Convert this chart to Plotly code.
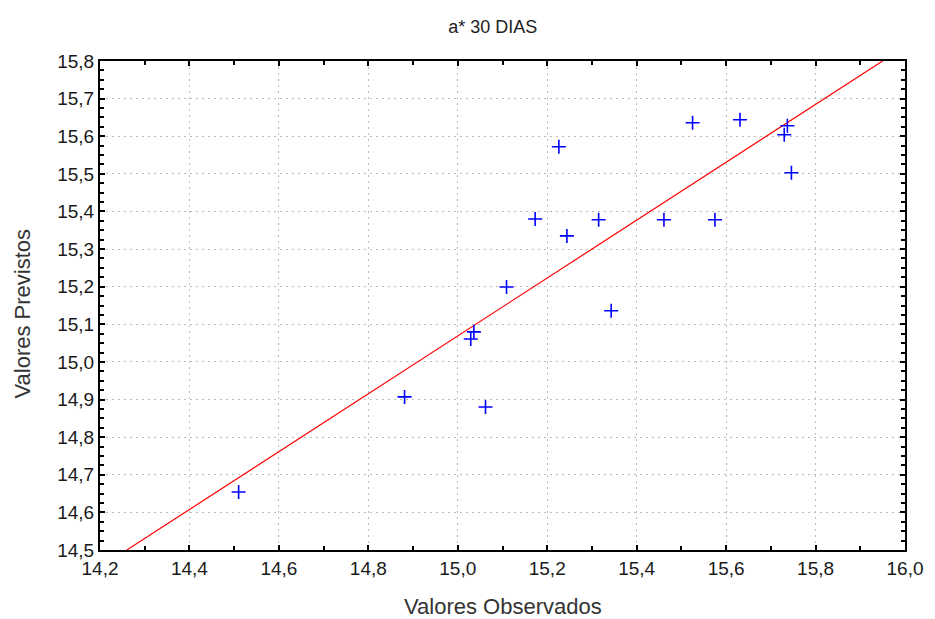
import plotly.graph_objects as go

observed = [14.51, 14.881, 15.029, 15.036, 15.062, 15.109, 15.173, 15.226, 15.244,
            15.315, 15.343, 15.461, 15.525, 15.575, 15.631, 15.730, 15.737, 15.746]
predicted = [14.654, 14.907, 15.061, 15.080, 14.880, 15.199, 15.380, 15.572, 15.335,
             15.378, 15.136, 15.378, 15.636, 15.378, 15.644, 15.604, 15.628, 15.503]

# Fitted line endpoints
fit_x = [14.26, 15.95]
fit_y = [14.50, 15.80]

title_text = "a* 30 DIAS"
x_title = "Valores Observados"
y_title = "Valores Previstos"

font_family = "Liberation Sans, Arial, sans-serif"

fig = go.Figure()
fig.add_trace(go.Scatter(x=fit_x, y=fit_y, mode="lines",
                         line=dict(color="#ff0000", width=1.2),
                         hoverinfo="skip", showlegend=False))
fig.add_trace(go.Scatter(x=observed, y=predicted, mode="markers",
                         marker=dict(symbol="cross-thin", size=10, color="#0000ff",
                                     line=dict(color="#0000ff", width=1.6)),
                         showlegend=False))

axis_common = dict(
    showline=True, linecolor="black", linewidth=2, mirror="ticks",
    ticks="inside", ticklen=5, tickwidth=1.5, tickcolor="black",
    showgrid=True, gridcolor="#bdbdbd", griddash="2px,4px", gridwidth=1,
    zeroline=False, tickformat=".1f",
    tickfont=dict(size=19, color="#1a1a1a", family=font_family),
)

fig.update_xaxes(range=[14.2, 16.0], dtick=0.2, tick0=14.2,
                 minor=dict(dtick=0.1, ticks="inside", ticklen=4, tickcolor="black", showgrid=False),
                 **axis_common)
fig.update_yaxes(range=[14.5, 15.8], dtick=0.1, tick0=14.5,
                 minor=dict(dtick=0.025, ticks="inside", ticklen=4, tickcolor="black", showgrid=False),
                 **axis_common)

title_font = dict(size=22, color="#333333", family=font_family)
fig.add_annotation(text=x_title, xref="paper", yref="paper", x=0.5, y=0,
                   xanchor="center", yanchor="middle", yshift=-56, showarrow=False,
                   font=title_font)
fig.add_annotation(text=y_title, xref="paper", yref="paper", x=0, y=0.5,
                   xanchor="center", yanchor="middle", xshift=-78, yshift=-8,
                   textangle=-90, showarrow=False, font=title_font)

fig.update_layout(
    width=935, height=619,
    margin=dict(l=100, r=19, t=61, b=69),
    paper_bgcolor="white", plot_bgcolor="white",
    separators=", ",
    title=dict(text=title_text, x=0.527, xanchor="center", y=0.957, yanchor="middle",
               font=dict(size=18, color="#222222", family=font_family)),
)

fig.write_html("out.html")
